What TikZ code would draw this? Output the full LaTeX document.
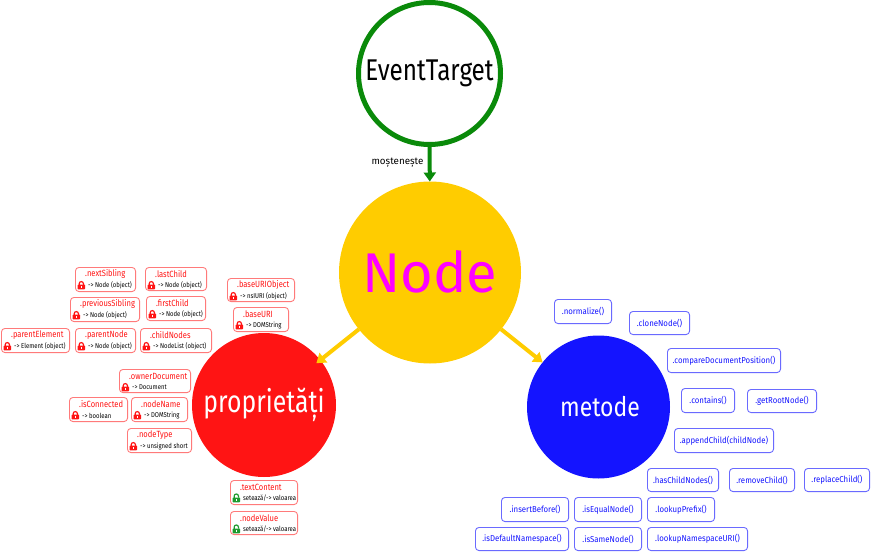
\documentclass[tikz,border=0pt]{standalone}
\usepackage{fontspec}
\setmainfont{Fira Sans}
\usetikzlibrary{arrows.meta,calc}
\definecolor{propred}{HTML}{FF1414}
\definecolor{propedge}{HTML}{FF7A7A}
\definecolor{methblue}{HTML}{1414FF}
\definecolor{methedge}{HTML}{6A6AFF}
\definecolor{gold}{HTML}{FFCC00}
\definecolor{grn}{HTML}{0A8A0A}
\definecolor{lockgrn}{HTML}{1E9A2E}
\definecolor{nodemag}{HTML}{FF00FF}
\tikzset{
  bigcircle/.style={circle,inner sep=0pt,outer sep=0pt},
  propbox/.style={draw=propedge,line width=0.9pt,rounded corners=3.5pt,inner sep=0pt,outer sep=0pt,fill=white},
  methbox/.style={draw=methedge,line width=0.9pt,rounded corners=3.5pt,inner sep=0pt,outer sep=0pt,fill=white,text=methblue,font=\fontsize{8.6}{10}\selectfont},
  titletext/.style={anchor=west,inner sep=0pt,text=propred,font=\fontsize{9}{10}\selectfont},
  subtext/.style={anchor=west,inner sep=0pt,text=black,font=\fontsize{7}{8}\selectfont},
  conn/.style={line width=4pt,-{Triangle[length=9pt,width=12pt]}}
}
% padlock: x, y of the box corner, colour
\newcommand{\closedlock}[3]{%
  \draw[#3,line width=1.2pt] ({#1+4.2},{#2+18}) -- ({#1+4.2},{#2+16.6}) arc[start angle=180,end angle=0,x radius=2.1,y radius=-2] -- ({#1+8.4},{#2+18});
  \fill[#3,rounded corners=0.7pt] ({#1+2.6},{#2+17.5}) rectangle ({#1+10},{#2+22.4});
  \fill[white] ({#1+5.8},{#2+18.8}) rectangle ({#1+6.8},{#2+21.2});
}
\newcommand{\openlock}[3]{%
  \draw[#3,line width=1.2pt] ({#1+4.2},{#2+18}) -- ({#1+4.2},{#2+16}) arc[start angle=180,end angle=0,x radius=2.1,y radius=-2] -- ({#1+8.4},{#2+15.6});
  \fill[#3,rounded corners=0.7pt] ({#1+2.6},{#2+17.5}) rectangle ({#1+10},{#2+22.4});
  \fill[white] ({#1+5.8},{#2+18.8}) rectangle ({#1+6.8},{#2+21.2});
}
% name, x1, y1, x2, y2, title, sub, lock macro, lock colour
\newcommand{\pb}[9]{%
  \pgfmathsetmacro{\bw}{#4-#2-0.9}\pgfmathsetmacro{\bh}{#5-#3-0.9}%
  \node[propbox,minimum width=\bw pt,minimum height=\bh pt] (#1) at ({(#2+#4)/2},{(#3+#5)/2}) {};
  \node[titletext] (#1t) at ({#2+10},{#3+7}) {\scalebox{.84}[1]{#6}};
  \node[subtext] (#1s) at ({#2+13},{#3+18.5}) {\scalebox{.85}[1]{#7}};
  #8{#2}{#3}{#9}
}
\newcommand{\mb}[6]{%
  \pgfmathsetmacro{\bw}{#4-#2-0.9}\pgfmathsetmacro{\bh}{#5-#3-0.9}%
  \node[methbox,minimum width=\bw pt,minimum height=\bh pt] (#1) at ({(#2+#4)/2},{(#3+#5)/2}) {\scalebox{.91}[1]{#6}};
}
\begin{document}
\begin{tikzpicture}[x=1pt,y=-1pt]
\useasboundingbox (0,0) rectangle (871,552);
% circles
\node[bigcircle,draw=grn,line width=5pt,fill=white,minimum size=142pt,font=\fontsize{30}{34}\selectfont] (et) at (429.5,73.5) {\raisebox{-2.5pt}{\scalebox{.81}[1]{EventTarget}}};
\node[bigcircle,fill=gold,minimum size=182pt,text=nodemag,font=\fontsize{56}{60}\selectfont] (nd) at (430,272.5) {\raisebox{2pt}{\scalebox{1}[1]{Node}}};
\node[bigcircle,fill=propred,minimum size=144pt,text=white,font=\fontsize{31}{36}\selectfont] (pr) at (264,405) {\scalebox{.8}[1]{proprietăți}};
\node[bigcircle,fill=methblue,minimum size=143pt,text=white,font=\fontsize{27}{32}\selectfont] (me) at (598.5,407) {\hspace{3pt}\scalebox{.85}[1]{metode}};
% connectors
\draw[conn,grn] (et) -- node[pos=0.5,left=1pt,text=black,font=\fontsize{9.8}{11}\selectfont] (lbl) {moștenește} (nd);
\draw[conn,gold,shorten >=-5pt] (nd) -- (pr);
\draw[conn,gold] (nd) -- (me);
% properties
\pb{nextsib}{75}{267}{136}{292}{.nextSibling}{-> Node (object)}{\closedlock}{propred}
\pb{lastch}{145}{267}{207}{291}{.lastChild}{-> Node (object)}{\closedlock}{propred}
\pb{prevsib}{70}{297}{140}{322}{.previousSibling}{-> Node (object)}{\closedlock}{propred}
\pb{firstch}{146}{296}{206}{321}{.firstChild}{-> Node (object)}{\closedlock}{propred}
\pb{parel}{1}{328}{70}{353}{.parentElement}{-> Element (object)}{\closedlock}{propred}
\pb{parnd}{75}{328}{136}{353}{.parentNode}{-> Node (object)}{\closedlock}{propred}
\pb{child}{140}{328}{212}{353}{.childNodes}{-> NodeList (object)}{\closedlock}{propred}
\pb{baseo}{227}{278}{295}{302}{.baseURIObject}{-> nsIURI (object)}{\closedlock}{propred}
\pb{baseu}{233}{307}{289}{332}{.baseURI}{-> DOMString}{\closedlock}{propred}
\pb{owner}{119}{369}{191}{393}{.ownerDocument}{-> Document}{\closedlock}{propred}
\pb{iscon}{69}{397}{128}{422}{.isConnected}{-> boolean}{\closedlock}{propred}
\pb{ndname}{131}{397}{188}{422}{.nodeName}{-> DOMString}{\closedlock}{propred}
\pb{ndtype}{127}{428}{192}{453}{.nodeType}{-> unsigned short}{\closedlock}{propred}
\pb{txtc}{230}{480}{298}{505}{.textContent}{setează/-> valoarea}{\openlock}{lockgrn}
\pb{ndval}{230}{511}{298}{535}{.nodeValue}{setează/-> valoarea}{\openlock}{lockgrn}
% methods
\mb{norm}{554}{299}{612}{324}{.normalize()}
\mb{clone}{629}{311}{690}{335}{.cloneNode()}
\mb{comp}{667}{348}{781}{373}{.compareDocumentPosition()}
\mb{cont}{681}{388}{735}{413}{.contains()}
\mb{root}{747}{389}{817}{413}{.getRootNode()}
\mb{app}{674}{428}{774}{453}{.appendChild(childNode)}
\mb{has}{647}{468}{719}{492}{.hasChildNodes()}
\mb{rem}{729}{468}{795}{492}{.removeChild()}
\mb{rep}{804}{468}{870}{492}{.replaceChild()}
\mb{ins}{501}{497}{569}{522}{.insertBefore()}
\mb{eqn}{574}{497}{642}{522}{.isEqualNode()}
\mb{pre}{647}{497}{715}{522}{.lookupPrefix()}
\mb{def}{475}{527}{569}{551}{.isDefaultNamespace()}
\mb{same}{574}{527}{642}{551}{.isSameNode()}
\mb{uri}{647}{527}{748}{551}{.lookupNamespaceURI()}
\end{tikzpicture}
\end{document}
